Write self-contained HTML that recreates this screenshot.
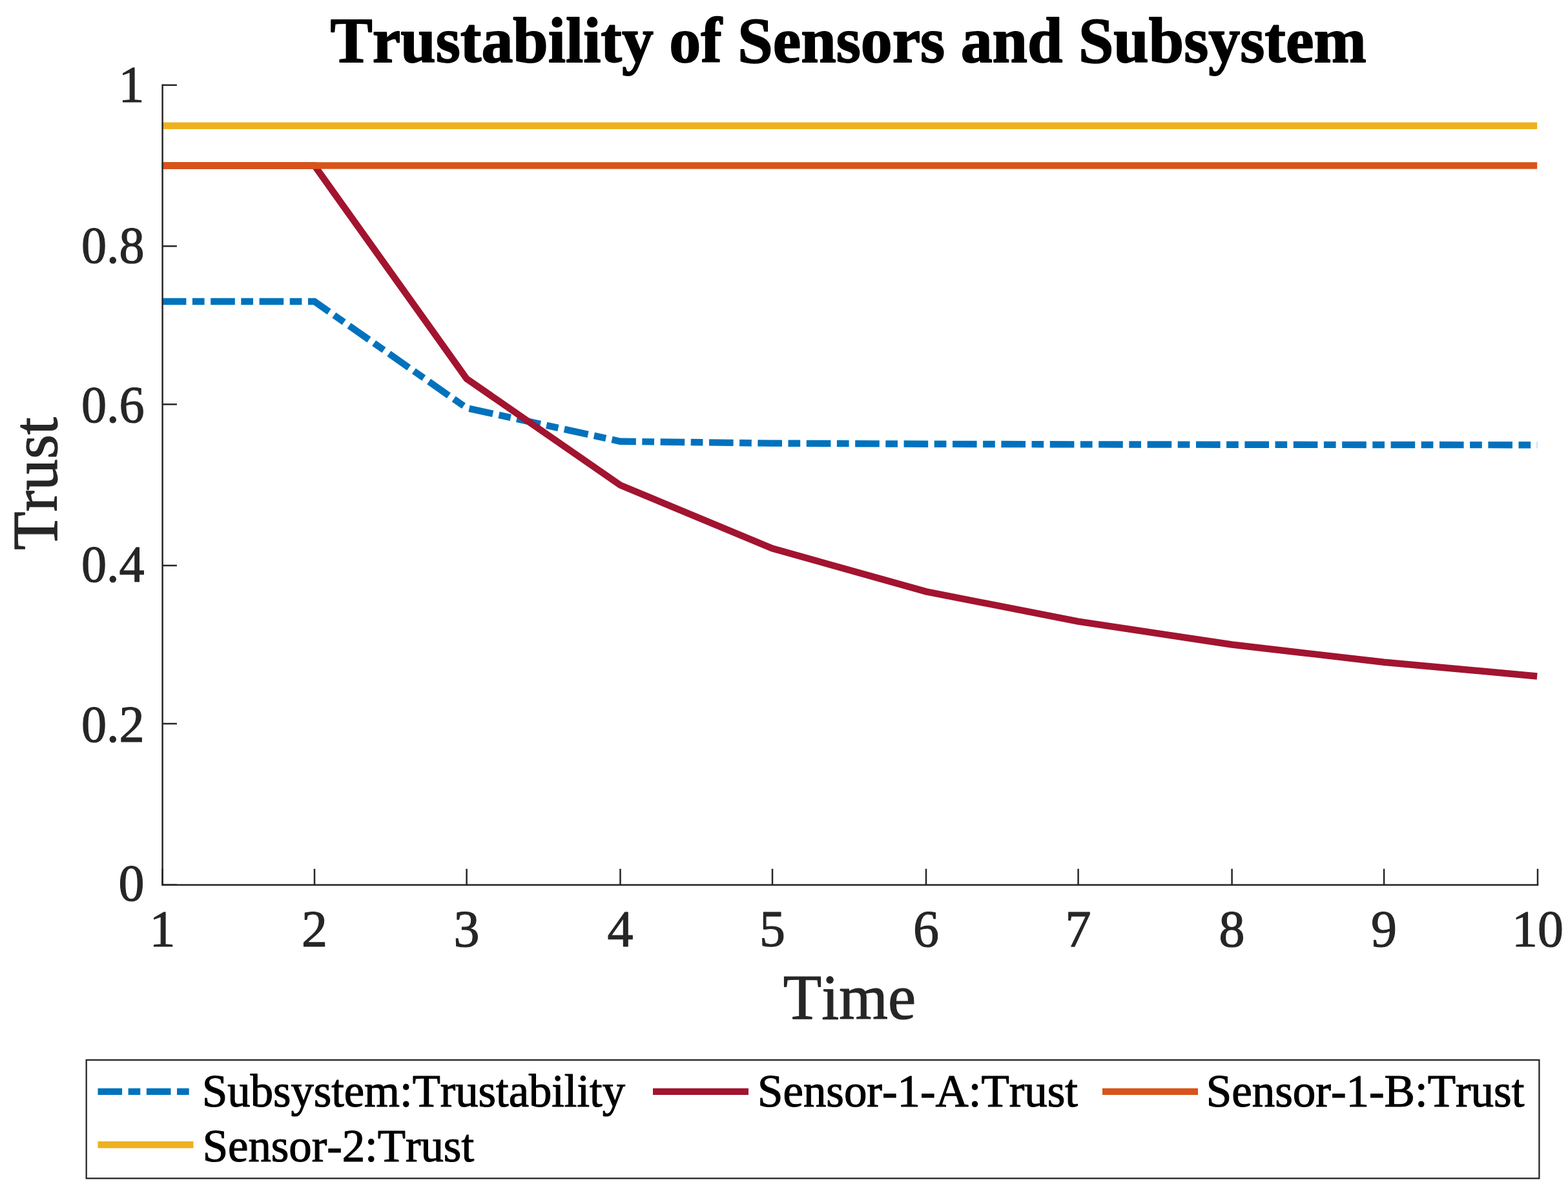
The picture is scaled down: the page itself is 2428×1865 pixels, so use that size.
<!DOCTYPE html>
<html><head><meta charset="utf-8"><title>Trustability of Sensors and Subsystem</title>
<style>html,body{margin:0;padding:0;background:#fff;}svg{display:block;}text{font-kerning:none;font-feature-settings:"kern" 0;}</style>
</head><body>
<svg width="2428" height="1865" viewBox="0 0 2428 1865">
<rect width="2428" height="1865" fill="#ffffff"/>
<polyline points="250.80,467.05 487.00,467.05 722.60,632.04 960.50,683.73 1196.00,686.60 1434.00,687.73 1669.60,688.35 1907.60,688.72 2143.10,688.97 2380.20,689.22" fill="none" stroke="#0072BD" stroke-width="10.4" stroke-dasharray="37.6 9.5 18.7 9.6" stroke-linejoin="miter" stroke-linecap="butt"/>
<polyline points="250.80,256.55 487.00,256.55 722.60,586.67 960.50,751.45 1196.00,849.63 1434.00,916.33 1669.60,962.70 1907.60,998.50 2143.10,1025.72 2380.20,1047.50" fill="none" stroke="#A2142F" stroke-width="10.4" stroke-linejoin="miter" stroke-linecap="butt"/>
<line x1="250.8" y1="256.55" x2="2380.2" y2="256.55" stroke="#D95319" stroke-width="10.4"/>
<line x1="250.8" y1="194.7" x2="2380.2" y2="194.7" stroke="#EDB120" stroke-width="10.4"/>
<g stroke="#262626" stroke-width="2.5" fill="none" stroke-linecap="square">
<line x1="251.6" y1="131.8" x2="251.6" y2="1370.7"/>
<line x1="251.6" y1="1370.7" x2="2381" y2="1370.7"/>
</g>
<g stroke="#262626" stroke-width="2.5" fill="none" stroke-linecap="butt">
<line x1="251.6" y1="131.8" x2="273.9" y2="131.8"/>
<line x1="251.6" y1="381.3" x2="273.9" y2="381.3"/>
<line x1="251.6" y1="626.3" x2="273.9" y2="626.3"/>
<line x1="251.6" y1="876.0" x2="273.9" y2="876.0"/>
<line x1="251.6" y1="1121.0" x2="273.9" y2="1121.0"/>
<line x1="251.6" y1="1370.7" x2="273.9" y2="1370.7"/>
<line x1="251.6" y1="1370.7" x2="251.6" y2="1345.8"/>
<line x1="487" y1="1370.7" x2="487" y2="1345.8"/>
<line x1="722.6" y1="1370.7" x2="722.6" y2="1345.8"/>
<line x1="960.5" y1="1370.7" x2="960.5" y2="1345.8"/>
<line x1="1196" y1="1370.7" x2="1196" y2="1345.8"/>
<line x1="1434" y1="1370.7" x2="1434" y2="1345.8"/>
<line x1="1669.6" y1="1370.7" x2="1669.6" y2="1345.8"/>
<line x1="1907.6" y1="1370.7" x2="1907.6" y2="1345.8"/>
<line x1="2143.1" y1="1370.7" x2="2143.1" y2="1345.8"/>
<line x1="2381" y1="1370.7" x2="2381" y2="1345.8"/>
</g>
<rect x="133.7" y="1641.9" width="2249.7000000000003" height="183.39999999999986" fill="#fff" stroke="#262626" stroke-width="2.3"/>
<line x1="151.5" y1="1690.9" x2="299.5" y2="1690.9" stroke="#0072BD" stroke-width="10.4" stroke-dasharray="37.6 9.5 18.7 9.6"/>
<line x1="1011.0" y1="1690.9" x2="1159.0" y2="1690.9" stroke="#A2142F" stroke-width="10.4"/>
<line x1="1707.0" y1="1690.9" x2="1855.0" y2="1690.9" stroke="#D95319" stroke-width="10.4"/>
<line x1="151.5" y1="1773.3" x2="299.5" y2="1773.3" stroke="#EDB120" stroke-width="10.4"/>
<text x="223.6" y="157.90" font-family="'Liberation Serif', 'Times New Roman', serif" font-size="80" fill="#262626" stroke="#262626" stroke-width="1.2" stroke-linejoin="round" text-anchor="end">1</text>
<text x="223.6" y="406.90" font-family="'Liberation Serif', 'Times New Roman', serif" font-size="80" fill="#262626" stroke="#262626" stroke-width="1.2" stroke-linejoin="round" text-anchor="end" textLength="97.71" lengthAdjust="spacingAndGlyphs">0.8</text>
<text x="223.6" y="653.90" font-family="'Liberation Serif', 'Times New Roman', serif" font-size="80" fill="#262626" stroke="#262626" stroke-width="1.2" stroke-linejoin="round" text-anchor="end" textLength="97.71" lengthAdjust="spacingAndGlyphs">0.6</text>
<text x="223.6" y="901.20" font-family="'Liberation Serif', 'Times New Roman', serif" font-size="80" fill="#262626" stroke="#262626" stroke-width="1.2" stroke-linejoin="round" text-anchor="end" textLength="97.71" lengthAdjust="spacingAndGlyphs">0.4</text>
<text x="223.6" y="1148.80" font-family="'Liberation Serif', 'Times New Roman', serif" font-size="80" fill="#262626" stroke="#262626" stroke-width="1.2" stroke-linejoin="round" text-anchor="end" textLength="97.71" lengthAdjust="spacingAndGlyphs">0.2</text>
<text x="223.6" y="1395.30" font-family="'Liberation Serif', 'Times New Roman', serif" font-size="80" fill="#262626" stroke="#262626" stroke-width="1.2" stroke-linejoin="round" text-anchor="end">0</text>
<text x="251.6" y="1466.00" font-family="'Liberation Serif', 'Times New Roman', serif" font-size="80" fill="#262626" stroke="#262626" stroke-width="1.2" stroke-linejoin="round" text-anchor="middle">1</text>
<text x="487" y="1466.00" font-family="'Liberation Serif', 'Times New Roman', serif" font-size="80" fill="#262626" stroke="#262626" stroke-width="1.2" stroke-linejoin="round" text-anchor="middle">2</text>
<text x="722.6" y="1466.00" font-family="'Liberation Serif', 'Times New Roman', serif" font-size="80" fill="#262626" stroke="#262626" stroke-width="1.2" stroke-linejoin="round" text-anchor="middle">3</text>
<text x="960.5" y="1466.00" font-family="'Liberation Serif', 'Times New Roman', serif" font-size="80" fill="#262626" stroke="#262626" stroke-width="1.2" stroke-linejoin="round" text-anchor="middle">4</text>
<text x="1196" y="1466.00" font-family="'Liberation Serif', 'Times New Roman', serif" font-size="80" fill="#262626" stroke="#262626" stroke-width="1.2" stroke-linejoin="round" text-anchor="middle">5</text>
<text x="1434" y="1466.00" font-family="'Liberation Serif', 'Times New Roman', serif" font-size="80" fill="#262626" stroke="#262626" stroke-width="1.2" stroke-linejoin="round" text-anchor="middle">6</text>
<text x="1669.6" y="1466.00" font-family="'Liberation Serif', 'Times New Roman', serif" font-size="80" fill="#262626" stroke="#262626" stroke-width="1.2" stroke-linejoin="round" text-anchor="middle">7</text>
<text x="1907.6" y="1466.00" font-family="'Liberation Serif', 'Times New Roman', serif" font-size="80" fill="#262626" stroke="#262626" stroke-width="1.2" stroke-linejoin="round" text-anchor="middle">8</text>
<text x="2143.1" y="1466.00" font-family="'Liberation Serif', 'Times New Roman', serif" font-size="80" fill="#262626" stroke="#262626" stroke-width="1.2" stroke-linejoin="round" text-anchor="middle">9</text>
<text x="2381" y="1466.00" font-family="'Liberation Serif', 'Times New Roman', serif" font-size="80" fill="#262626" stroke="#262626" stroke-width="1.2" stroke-linejoin="round" text-anchor="middle">10</text>
<text x="1212.83" y="1578.00" font-family="'Liberation Serif', 'Times New Roman', serif" font-size="100" fill="#262626" stroke="#262626" stroke-width="1.2" stroke-linejoin="round" textLength="205.24" lengthAdjust="spacingAndGlyphs">Time</text>
<text transform="translate(87.60 851.98) rotate(-90)" x="0" y="0" font-family="'Liberation Serif', 'Times New Roman', serif" font-size="100" fill="#262626" stroke="#262626" stroke-width="1.2" stroke-linejoin="round" textLength="205.97" lengthAdjust="spacingAndGlyphs">Trust</text>
<text x="511.60" y="96.10" font-family="'Liberation Serif', 'Times New Roman', serif" font-size="98.5" fill="#000" font-weight="bold" stroke="#000" stroke-width="1.8" stroke-linejoin="round" textLength="1604.31" lengthAdjust="spacingAndGlyphs">Trustability of Sensors and Subsystem</text>
<text x="313.09" y="1713.50" font-family="'Liberation Serif', 'Times New Roman', serif" font-size="72" fill="#000" stroke="#000" stroke-width="1.2" stroke-linejoin="round" textLength="654.94" lengthAdjust="spacingAndGlyphs">Subsystem:Trustability</text>
<text x="1173.07" y="1713.50" font-family="'Liberation Serif', 'Times New Roman', serif" font-size="72" fill="#000" stroke="#000" stroke-width="1.2" stroke-linejoin="round" textLength="495.87" lengthAdjust="spacingAndGlyphs">Sensor-1-A:Trust</text>
<text x="1867.87" y="1713.50" font-family="'Liberation Serif', 'Times New Roman', serif" font-size="72" fill="#000" stroke="#000" stroke-width="1.2" stroke-linejoin="round" textLength="492.49" lengthAdjust="spacingAndGlyphs">Sensor-1-B:Trust</text>
<text x="313.67" y="1798.50" font-family="'Liberation Serif', 'Times New Roman', serif" font-size="72" fill="#000" stroke="#000" stroke-width="1.2" stroke-linejoin="round" textLength="420.40" lengthAdjust="spacingAndGlyphs">Sensor-2:Trust</text>
</svg>
</body></html>
